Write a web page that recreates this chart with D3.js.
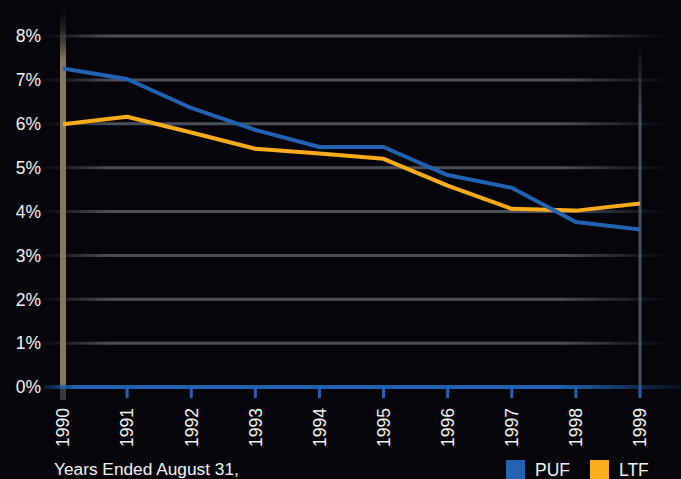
<!DOCTYPE html>
<html>
<head>
<meta charset="utf-8">
<script src="https://cdn.jsdelivr.net/npm/d3@7"></script>
<style>
  body { margin: 0; background: #05050a; }
  text { font-family: "Liberation Sans", Arial, sans-serif; fill: #f2f2f2; }
</style>
</head>
<body>
<div id="chart"></div>
<script>
// data
var years = ["1990","1991","1992","1993","1994","1995","1996","1997","1998","1999"];
var puf = [7.26, 7.02, 6.36, 5.86, 5.47, 5.47, 4.83, 4.54, 3.76, 3.59];
var ltf = [5.99, 6.16, 5.80, 5.43, 5.32, 5.20, 4.59, 4.06, 4.02, 4.18];
var yTicks = [0, 1, 2, 3, 4, 5, 6, 7, 8];
var seriesNames = ["PUF", "LTF"];
var seriesColors = ["#2263b3", "#fbac1b"];

var W = 681, H = 479;
var margin = {top: 36, left: 63, right: 41, bottom: 92};

var svg = d3.select("#chart").append("svg")
  .attr("width", W).attr("height", H);

svg.append("rect").attr("width", W).attr("height", H).attr("fill", "#05050a");

var x = d3.scalePoint().domain(years).range([margin.left, W - margin.right]);
var y = d3.scaleLinear().domain([0, 8]).range([H - margin.bottom, margin.top]);

var defs = svg.append("defs");
function hGrad(id, color, stops) {
  var g = defs.append("linearGradient").attr("id", id)
    .attr("gradientUnits", "userSpaceOnUse")
    .attr("x1", 0).attr("x2", W).attr("y1", 0).attr("y2", 0);
  stops.forEach(function(s) {
    g.append("stop").attr("offset", s[0] / W).attr("stop-color", color).attr("stop-opacity", s[1]);
  });
}
function vGrad(id, color, stops) {
  var g = defs.append("linearGradient").attr("id", id)
    .attr("gradientUnits", "userSpaceOnUse")
    .attr("x1", 0).attr("x2", 0).attr("y1", 0).attr("y2", H);
  stops.forEach(function(s) {
    g.append("stop").attr("offset", s[0] / H).attr("stop-color", s[2] || color).attr("stop-opacity", s[1]);
  });
}
hGrad("gridGrad", "#4a505a", [[40, 0], [110, 1], [560, 1], [670, 0]]);
hGrad("axisGrad", "#2263b3", [[44, 0.2], [75, 1], [560, 1], [681, 0.1]]);
vGrad("leftGrad", "#857a5e", [[6, 0, "#222630"], [60, 1], [384, 1], [388, 1, "#3a3a3c"], [400, 1, "#3a3a3c"]]);
vGrad("rightGrad", "#4a505a", [[40, 0], [120, 1], [387, 1]]);

// gridlines
svg.append("g").selectAll("line")
  .data(yTicks.filter(function(d) { return d > 0; }))
  .join("line")
  .attr("x1", 40).attr("x2", 670)
  .attr("y1", function(d) { return y(d); })
  .attr("y2", function(d) { return y(d); })
  .attr("stroke", "url(#gridGrad)")
  .attr("stroke-width", 3);

// right frame line
svg.append("line")
  .attr("x1", x("1999")).attr("x2", x("1999"))
  .attr("y1", 40).attr("y2", y(0))
  .attr("stroke", "url(#rightGrad)")
  .attr("stroke-width", 3);

// left bar
svg.append("rect")
  .attr("x", x("1990") - 3).attr("width", 6)
  .attr("y", 8).attr("height", 392)
  .attr("fill", "url(#leftGrad)");

// lines
var line = d3.line()
  .x(function(d, i) { return x(years[i]); })
  .y(function(d) { return y(d); });

[puf, ltf].slice().reverse().forEach(function(s, k) {
  var i = 1 - k;
  svg.append("path")
    .datum(s)
    .attr("d", line)
    .attr("fill", "none")
    .attr("stroke", seriesColors[i])
    .attr("stroke-width", 4)
    .attr("stroke-linejoin", "round");
});

// bottom axis
svg.append("line")
  .attr("x1", 44).attr("x2", W)
  .attr("y1", y(0)).attr("y2", y(0))
  .attr("stroke", "url(#axisGrad)")
  .attr("stroke-width", 4);

svg.append("g").selectAll("line")
  .data(years.slice(1))
  .join("line")
  .attr("x1", function(d) { return x(d); })
  .attr("x2", function(d) { return x(d); })
  .attr("y1", y(0)).attr("y2", y(0) + 11)
  .attr("stroke", "#2263b3")
  .attr("stroke-width", 3);

// y labels
svg.append("g").selectAll("text")
  .data(yTicks)
  .join("text")
  .attr("x", 41)
  .attr("y", function(d) { return y(d); })
  .attr("dy", "0.36em")
  .attr("text-anchor", "end")
  .attr("font-size", 17.5)
  .text(function(d) { return d + "%"; });

// x labels
svg.append("g").selectAll("text")
  .data(years)
  .join("text")
  .attr("transform", function(d) { return "translate(" + x(d) + "," + (y(0) + 21) + ") rotate(-90)"; })
  .attr("dy", "0.36em")
  .attr("text-anchor", "end")
  .attr("font-size", 17.5)
  .text(function(d) { return d; });

svg.append("text")
  .attr("x", 54).attr("y", 475)
  .attr("font-size", 17.3)
  .text("Years Ended August 31,");

// legend
var legend = svg.append("g").selectAll("g")
  .data(seriesNames)
  .join("g")
  .attr("transform", function(d, i) { return "translate(" + (506 + i * 84) + ",460)"; });
legend.append("rect").attr("width", 19).attr("height", 19)
  .attr("fill", function(d, i) { return seriesColors[i]; });
legend.append("text").attr("x", 29).attr("y", 16).attr("font-size", 17.5)
  .text(function(d) { return d; });
</script>
</body>
</html>
